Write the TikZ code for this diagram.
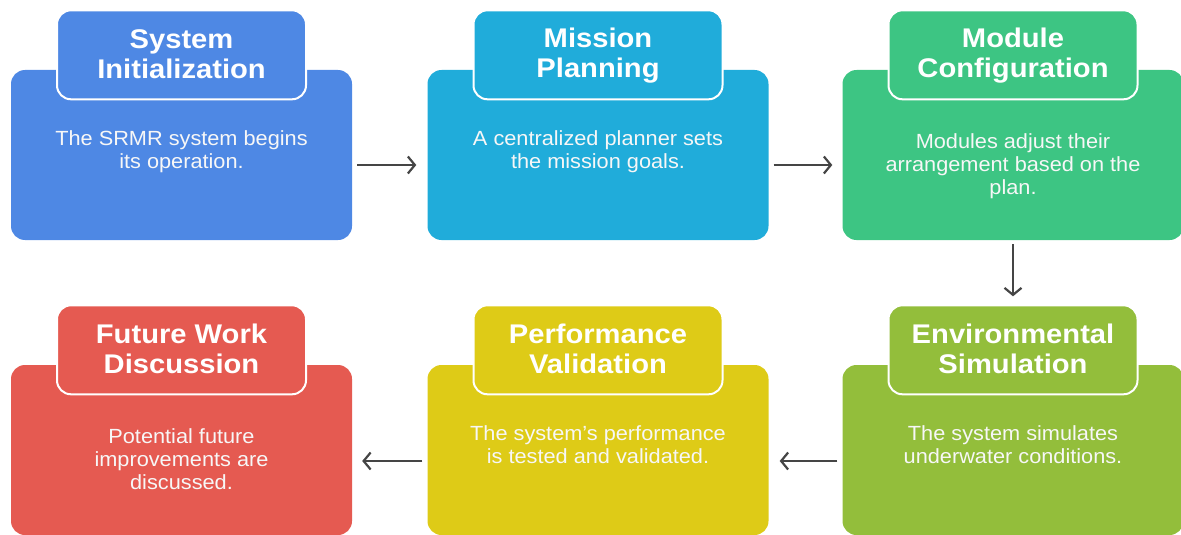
\documentclass[tikz,border=0pt]{standalone}
\usepackage{fontspec}
\setmainfont[FakeStretch=1.06]{Liberation Sans}
\newfontfamily\tabfont[FakeStretch=1.08]{Liberation Sans}
\usepackage{tikz}
\usetikzlibrary{arrows.meta, positioning}
\definecolor{initblue}{HTML}{4E88E4}
\definecolor{plancyan}{HTML}{20ACDA}
\definecolor{confgreen}{HTML}{3DC583}
\definecolor{simlime}{HTML}{93BE3B}
\definecolor{valyellow}{HTML}{DECB17}
\definecolor{futred}{HTML}{E55A51}
\definecolor{arrowgray}{HTML}{454545}
\newcommand{\tabstrut}{\rule[-4pt]{0pt}{25pt}}

\begin{document}
\begin{tikzpicture}
                            [x=1pt, y=-1pt,
                             body/.style={rounded corners=14pt, minimum width=341pt, minimum height=170pt, inner sep=0pt},
                             tab/.style={draw=white, line width=2pt, rounded corners=14pt, minimum width=249pt, minimum height=89pt, inner sep=0pt, align=center, text=white, font=\tabfont\fontsize{27}{30}\selectfont\bfseries},
                             desc/.style={anchor=north, align=center, inner sep=0pt, text=white!94!gray, font=\fontsize{20.5}{23}\selectfont},
                             flow/.style={draw=arrowgray, line width=2.2pt, -{Straight Barb[length=7pt, width=17pt, line width=2.2pt]}}]

                            \useasboundingbox (0,0) rectangle (1181,535);

                            % top row
                            \node[body, fill=initblue] (init) at (181.5,155) {};
                            \node[body, fill=plancyan] (plan) at (598,155) {};
                            \node[body, fill=confgreen] (conf) at (1013,155) {};
                            % bottom row
                            \node[body, fill=futred] (fut) at (181.5,450) {};
                            \node[body, fill=valyellow] (val) at (598,450) {};
                            \node[body, fill=simlime] (sim) at (1013,450) {};

                            \node[tab, fill=initblue] (initT) at ([yshift=15pt]init.north) {\tabstrut System\\\tabstrut Initialization};
                            \node[tab, fill=plancyan] (planT) at ([yshift=15pt]plan.north) {\tabstrut Mission\\\tabstrut Planning};
                            \node[tab, fill=confgreen] (confT) at ([yshift=15pt]conf.north) {\tabstrut Module\\\tabstrut Configuration};
                            \node[tab, fill=futred] (futT) at ([yshift=15pt]fut.north) {\tabstrut Future Work\\\tabstrut Discussion};
                            \node[tab, fill=valyellow] (valT) at ([yshift=15pt]val.north) {\tabstrut Performance\\\tabstrut Validation};
                            \node[tab, fill=simlime] (simT) at ([yshift=15pt]sim.north) {\tabstrut Environmental\\\tabstrut Simulation};

                            \node[desc] (initD) at ([yshift=-61pt]init.north) {The SRMR system begins\\its operation.};
                            \node[desc] (planD) at ([yshift=-61pt]plan.north) {A centralized planner sets\\the mission goals.};
                            \node[desc] (confD) at ([yshift=-64pt]conf.north) {Modules adjust their\\arrangement based on the\\plan.};
                            \node[desc] (futD) at ([yshift=-64pt]fut.north) {Potential future\\improvements are\\discussed.};
                            \node[desc] (valD) at ([yshift=-61pt]val.north) {The system's performance\\is tested and validated.};
                            \node[desc] (simD) at ([yshift=-61pt]sim.north) {The system simulates\\underwater conditions.};

                            \draw[flow, shorten <=5pt, shorten >=11pt] ([yshift=-10pt]init.east) -- ([yshift=-10pt]plan.west);
                            \draw[flow, shorten <=5pt, shorten >=10pt] ([yshift=-10pt]plan.east) -- ([yshift=-10pt]conf.west);
                            \draw[flow, shorten <=4pt, shorten >=8pt] (conf.south) -- (simT.north);
                            \draw[flow, shorten <=5pt, shorten >=11pt] ([yshift=-11pt]sim.west) -- ([yshift=-11pt]val.east);
                            \draw[flow, shorten <=5pt, shorten >=10pt] ([yshift=-11pt]val.west) -- ([yshift=-11pt]fut.east);
                        \end{tikzpicture}
\end{document}
